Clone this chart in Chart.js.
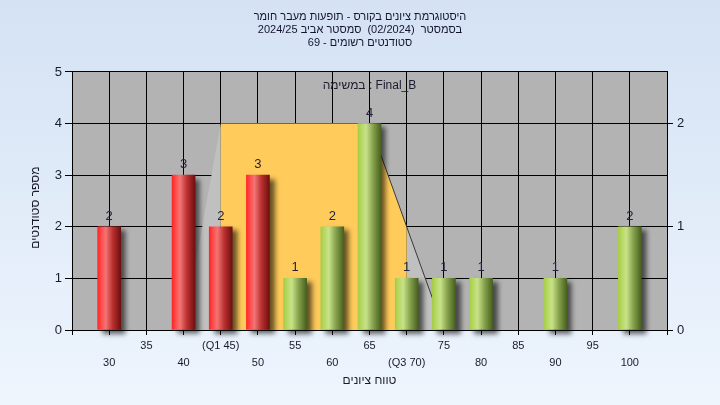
<!DOCTYPE html>
<html>
<head>
<meta charset="utf-8">
<script src="https://cdn.jsdelivr.net/npm/chart.js@4.4.1/dist/chart.umd.min.js"></script>
<style>
  html, body { margin: 0; padding: 0; background: #e4eef9; }
  canvas { display: block; }
</style>
</head>
<body>
<canvas id="chart" width="720" height="405"></canvas>
<script>
// Grade buckets and number of students in each
const grades = [30, 35, 40, 45, 50, 55, 60, 65, 70, 75, 80, 85, 90, 95, 100];
const counts = [2, 0, 3, 2, 3, 1, 2, 4, 1, 1, 1, 0, 1, 0, 2];
const passGrade = 55;

// x axis runs one step past the first and last bucket
const xMin = 25;
const xMax = 105;
const xStep = 5;
const xTickLabels = ['', '30', '35', '40', '(Q1 45)', '50', '55', '60', '65', '(Q3 70)', '75', '80', '85', '90', '95', '100', ''];

// quartile box and its slanted side faces, in [grade, count]
const q1 = 45;
const q3 = 70;
const boxTop = 4;
const boxFace = [[q1, 0], [q1, boxTop], [65, boxTop], [q3, 2], [q3, 0]];
const leftFace = [[40, 0], [q1, boxTop], [q1, 0]];
const rightFace = [[q3, 2], [75, 0], [q3, 0]];
const foldLine = [[65, boxTop], [75, 0]];

const titleLines = [
    'היסטוגרמת ציונים בקורס - תופעות מעבר חומר',
    '2024/25 בסמסטר  (02/2024)  סמסטר אביב',
    'סטודנטים רשומים - 69'
];
const taskLabel = 'במשימה : Final_B';
const yTitle = 'מספר סטודנטים    ';
const xTitle = 'טווח ציונים';

const FONT = '"Liberation Sans", "DejaVu Sans", sans-serif';
const barWidth = 23;
const redStops = [[0, '#ff2626'], [0.15, '#ff4a4a'], [0.35, '#f27474'], [0.65, '#bb3030'], [1, '#6e1010']];
const greenStops = [[0, '#a6cc48'], [0.15, '#b6d862'], [0.35, '#c8e28a'], [0.65, '#86a24c'], [1, '#46601e']];

const points = grades
    .map((g, i) => ({ x: g, y: counts[i] }))
    .filter(p => p.y > 0);

/**
 * Horizontal cylinder-like shading for each bar.
 */
function barFill(c) {
    const chart = c.chart;
    if (!chart.chartArea || !c.raw) return '#c03030';
    const cx = chart.scales.x.getPixelForValue(c.raw.x);
    const g = chart.ctx.createLinearGradient(cx - barWidth / 2, 0, cx + barWidth / 2, 0);
    const stops = c.raw.x < passGrade ? redStops : greenStops;
    stops.forEach(([o, col]) => g.addColorStop(o, col));
    return g;
}

function polygon(chart, pts, fill) {
    const { ctx, scales: { x, y } } = chart;
    ctx.beginPath();
    pts.forEach(([gx, gy], i) => {
        const px = x.getPixelForValue(gx);
        const py = y.getPixelForValue(gy);
        if (i === 0) ctx.moveTo(px, py); else ctx.lineTo(px, py);
    });
    ctx.closePath();
    ctx.fillStyle = fill;
    ctx.fill();
}

// page gradient + grey plot area
const backdrop = {
    id: 'backdrop',
    beforeDraw(chart) {
        const { ctx, chartArea: a, width, height } = chart;
        ctx.save();
        const g = ctx.createLinearGradient(0, 0, 0, height);
        g.addColorStop(0, '#d4e2f4');
        g.addColorStop(1, '#eef5fd');
        ctx.fillStyle = g;
        ctx.fillRect(0, 0, width, height);
        ctx.fillStyle = '#b3b3b3';
        ctx.fillRect(a.left, a.top, a.right - a.left, a.bottom - a.top);
        ctx.restore();
    }
};

// the Q1..Q3 box, drawn over the grid and under the bars
const quartileBox = {
    id: 'quartileBox',
    beforeDatasetsDraw(chart) {
        const { ctx, chartArea: a, scales: { x, y } } = chart;
        ctx.save();
        polygon(chart, leftFace, '#c0c0c0');
        polygon(chart, rightFace, '#c0c0c0');
        polygon(chart, boxFace, '#ffcb5a');
        ctx.beginPath();
        ctx.moveTo(x.getPixelForValue(foldLine[0][0]), y.getPixelForValue(foldLine[0][1]));
        ctx.lineTo(x.getPixelForValue(foldLine[1][0]), y.getPixelForValue(foldLine[1][1]));
        ctx.strokeStyle = '#3a3a3a';
        ctx.lineWidth = 1;
        ctx.stroke();

        ctx.font = '12px ' + FONT;
        ctx.fillStyle = '#1c1c30';
        ctx.textAlign = 'center';
        ctx.textBaseline = 'middle';
        ctx.fillText(taskLabel, (a.left + a.right) / 2, a.top + 14);
        ctx.restore();
    }
};

const barShadow = {
    id: 'barShadow',
    beforeDatasetDraw(chart) {
        const c = chart.ctx;
        c.save();
        c.shadowColor = 'rgba(0, 0, 0, 0.6)';
        c.shadowBlur = 5;
        c.shadowOffsetX = 5;
        c.shadowOffsetY = 4;
    },
    afterDatasetDraw(chart) {
        chart.ctx.restore();
    }
};

const valueLabels = {
    id: 'valueLabels',
    afterDatasetsDraw(chart) {
        const { ctx } = chart;
        const meta = chart.getDatasetMeta(0);
        ctx.save();
        ctx.font = '13px ' + FONT;
        ctx.fillStyle = '#22223a';
        ctx.textAlign = 'center';
        ctx.textBaseline = 'alphabetic';
        meta.data.forEach((bar, i) => {
            ctx.fillText(String(points[i].y), bar.x, bar.y - 7);
        });
        ctx.restore();
    }
};

const ctx = document.getElementById('chart').getContext('2d');
const chart = new Chart(ctx, {
    type: 'bar',
    data: {
        datasets: [{
            data: points,
            backgroundColor: barFill,
            borderWidth: 0,
            barThickness: barWidth,
            clip: false,
            xAxisID: 'x',
            yAxisID: 'y'
        }]
    },
    options: {
        responsive: false,
        animation: false,
        events: [],
        layout: { padding: 0 },
        plugins: {
            legend: { display: false },
            tooltip: { enabled: false },
            title: {
                display: true,
                text: titleLines,
                color: '#141432',
                font: { family: FONT, size: 11, weight: 'normal', lineHeight: 1.15 },
                padding: { top: 11, bottom: 23 }
            }
        },
        scales: {
            x: {
                type: 'linear',
                min: xMin,
                max: xMax,
                offset: false,
                grid: { color: '#000', lineWidth: 1, tickLength: 5, offset: false },
                border: { color: '#000' },
                ticks: {
                    stepSize: xStep,
                    autoSkip: false,
                    maxRotation: 0,
                    padding: 2,
                    color: '#1a1a2e',
                    font: { family: FONT, size: 11, lineHeight: 1.55 },
                    callback: (value) => {
                        const idx = Math.round((value - xMin) / xStep);
                        const text = xTickLabels[idx] || '';
                        return idx % 2 === 0 ? [text, ''] : ['', text];
                    }
                },
                title: {
                    display: true,
                    text: xTitle,
                    color: '#1a1a2e',
                    font: { family: FONT, size: 12 },
                    padding: { top: 0, bottom: 17 }
                },
                afterFit: (scale) => { scale.height = 75; }
            },
            y: {
                position: 'left',
                min: 0,
                max: 5,
                grid: { color: '#000', lineWidth: 1, tickLength: 7 },
                border: { color: '#000' },
                ticks: {
                    stepSize: 1,
                    padding: 3,
                    color: '#1a1a2e',
                    font: { family: FONT, size: 13 }
                },
                title: {
                    display: true,
                    text: yTitle,
                    color: '#1a1a2e',
                    font: { family: FONT, size: 12 },
                    padding: { top: 28, bottom: 0 }
                },
                afterFit: (scale) => { scale.width = 72; }
            },
            y2: {
                position: 'right',
                min: 0,
                max: 2.5,
                grid: { drawOnChartArea: false, color: '#000', tickLength: 6 },
                border: { color: '#000' },
                ticks: {
                    stepSize: 1,
                    includeBounds: false,
                    padding: 4,
                    color: '#1a1a2e',
                    font: { family: FONT, size: 13 }
                },
                afterFit: (scale) => { scale.width = 53; }
            }
        }
    },
    plugins: [backdrop, quartileBox, barShadow, valueLabels]
});
</script>
</body>
</html>
